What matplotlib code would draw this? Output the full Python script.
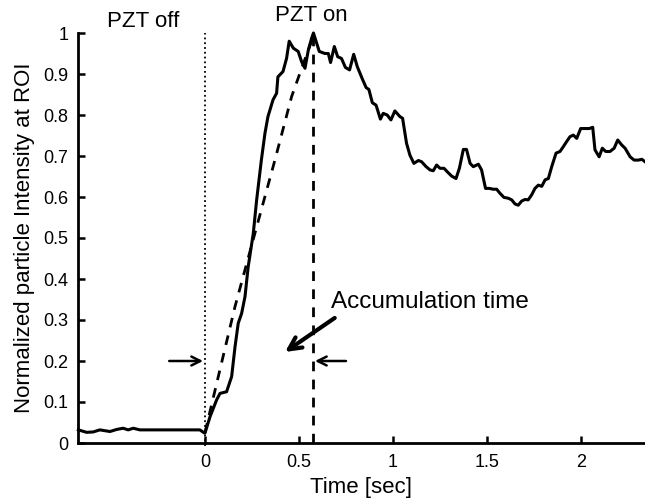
import numpy as np
import matplotlib
matplotlib.use('Agg')
from matplotlib import pyplot as plt

plt.rcParams['font.family'] = ['Liberation Sans', 'DejaVu Sans']

time_s = [-0.673, -0.629, -0.594, -0.559, -0.505, -0.47, -0.435, -0.408, -0.381,
          -0.346, -0.2, -0.027, -0.005, 0.0, 0.027, 0.062, 0.08, 0.115, 0.142,
          0.16, 0.177, 0.195, 0.213, 0.23, 0.257, 0.275, 0.30, 0.319, 0.335, 0.362,
          0.381, 0.388, 0.415, 0.434, 0.448, 0.47, 0.496, 0.514, 0.532, 0.55,
          0.567, 0.577, 0.594, 0.608, 0.638, 0.656, 0.668, 0.688, 0.706, 0.726,
          0.747, 0.769, 0.791, 0.81, 0.836, 0.857, 0.872, 0.89, 0.91, 0.933,
          0.948, 0.969, 0.989, 1.01, 1.037, 1.051, 1.072, 1.09, 1.111, 1.135,
          1.152, 1.176, 1.197, 1.214, 1.232, 1.25, 1.271, 1.294, 1.312, 1.335,
          1.353, 1.374, 1.391, 1.41, 1.427, 1.454, 1.471, 1.492, 1.512, 1.533,
          1.551, 1.569, 1.59, 1.613, 1.631, 1.649, 1.666, 1.684, 1.702, 1.719,
          1.737, 1.755, 1.773, 1.791, 1.809, 1.826, 1.844, 1.867, 1.888, 1.906,
          1.923, 1.941, 1.959, 1.977, 1.998, 2.021, 2.044, 2.062, 2.074, 2.096,
          2.113, 2.131, 2.154, 2.176, 2.195, 2.216, 2.234, 2.261, 2.282, 2.305,
          2.323, 2.34]
intensity = [0.032, 0.026, 0.027, 0.032, 0.028, 0.033, 0.036, 0.032, 0.036,
             0.032, 0.032, 0.032, 0.025, 0.024, 0.064, 0.105, 0.121, 0.125, 0.162,
             0.235, 0.292, 0.316, 0.357, 0.43, 0.511, 0.593, 0.69, 0.755, 0.796, 0.837,
             0.853, 0.893, 0.906, 0.938, 0.98, 0.963, 0.955, 0.93, 0.914, 0.959,
             0.987, 1.0, 0.975, 0.955, 0.95, 0.95, 0.928, 0.967, 0.942, 0.938,
             0.916, 0.91, 0.948, 0.918, 0.889, 0.867, 0.862, 0.83, 0.824, 0.79,
             0.804, 0.8, 0.788, 0.81, 0.796, 0.792, 0.731, 0.702, 0.682, 0.689,
             0.686, 0.674, 0.666, 0.664, 0.678, 0.67, 0.67, 0.659, 0.651, 0.645,
             0.67, 0.716, 0.716, 0.682, 0.674, 0.68, 0.666, 0.621, 0.621, 0.619,
             0.619, 0.609, 0.599, 0.597, 0.593, 0.583, 0.58, 0.59, 0.594, 0.593,
             0.605, 0.621, 0.629, 0.626, 0.642, 0.645, 0.674, 0.707, 0.711, 0.723,
             0.735, 0.747, 0.751, 0.743, 0.767, 0.767, 0.767, 0.77, 0.715, 0.698,
             0.719, 0.711, 0.711, 0.719, 0.739, 0.727, 0.719, 0.698, 0.69, 0.69,
             0.692, 0.686]

# 立ち上がりの目安線（破線）
guide_x = [0.0, 0.071, 0.16, 0.266, 0.372, 0.461, 0.523, 0.575]
guide_y = [0.025, 0.162, 0.333, 0.512, 0.69, 0.845, 0.925, 0.99]

t_off = 0.0
t_peak = 0.575

yticks = [0, 0.1, 0.2, 0.3, 0.4, 0.5, 0.6, 0.7, 0.8, 0.9, 1]
ytick_labels = ['0', '0.1', '0.2', '0.3', '0.4', '0.5', '0.6', '0.7', '0.8', '0.9', '1']
xticks = [0, 0.5, 1, 1.5, 2]
xtick_labels = ['0', '0.5', '1', '1.5', '2']

fig = plt.figure(figsize=(6.45, 5.03), dpi=100)
ax = fig.add_axes([78 / 645, 60 / 503, 567 / 645, 410 / 503])

ax.plot(time_s, intensity, '-', color='black', linewidth=2.2, clip_on=False)
ax.plot(guide_x, guide_y, '--', color='black', linewidth=2.0, dashes=(3.5, 3))
ax.plot([t_off, t_off], [-0.008, 1.0], ':', color='black', linewidth=1.3, clip_on=False)
ax.plot([t_peak, t_peak], [0, 1.0], '--', color='black', linewidth=2.0, dashes=(3.5, 3))

# 矢印
ax.annotate('', xy=(-0.01, 0.2), xytext=(-0.19, 0.2),
            arrowprops=dict(arrowstyle='->', lw=1.8, color='black',
                            mutation_scale=16, shrinkA=0, shrinkB=0))
ax.annotate('', xy=(t_peak + 0.01, 0.2), xytext=(0.75, 0.2),
            arrowprops=dict(arrowstyle='->', lw=1.8, color='black',
                            mutation_scale=16, shrinkA=0, shrinkB=0))
ax.annotate('', xy=(0.426, 0.222), xytext=(0.69, 0.305),
            arrowprops=dict(arrowstyle='->', lw=3.0, color='black',
                            mutation_scale=22, shrinkA=0, shrinkB=0))

ax.text(0.672, 0.344, 'Accumulation time', fontsize=17.5, ha='left', va='center')
ax.text(-0.33, 1.028, 'PZT off', fontsize=16, ha='center', va='center')
ax.text(0.564, 1.043, 'PZT on', fontsize=16, ha='center', va='center')

ax.set_xlim(-0.675, 2.34)
ax.set_ylim(0, 1)
ax.set_xticks(xticks)
ax.set_xticklabels(xtick_labels)
ax.set_yticks(yticks)
ax.set_yticklabels(ytick_labels)
ax.tick_params(direction='in', length=5, width=1.8, labelsize=13, pad=7)
ax.tick_params(axis='x', pad=8)

for side in ['top', 'right']:
  ax.spines[side].set_visible(False)
for side in ['left', 'bottom']:
  ax.spines[side].set_linewidth(2.0)

ax.set_xlabel('Time [sec]', fontsize=16, labelpad=4)
ax.set_ylabel('Normalized particle Intensity at ROI', fontsize=16, labelpad=6)

fig.savefig('out.png', dpi=100)
